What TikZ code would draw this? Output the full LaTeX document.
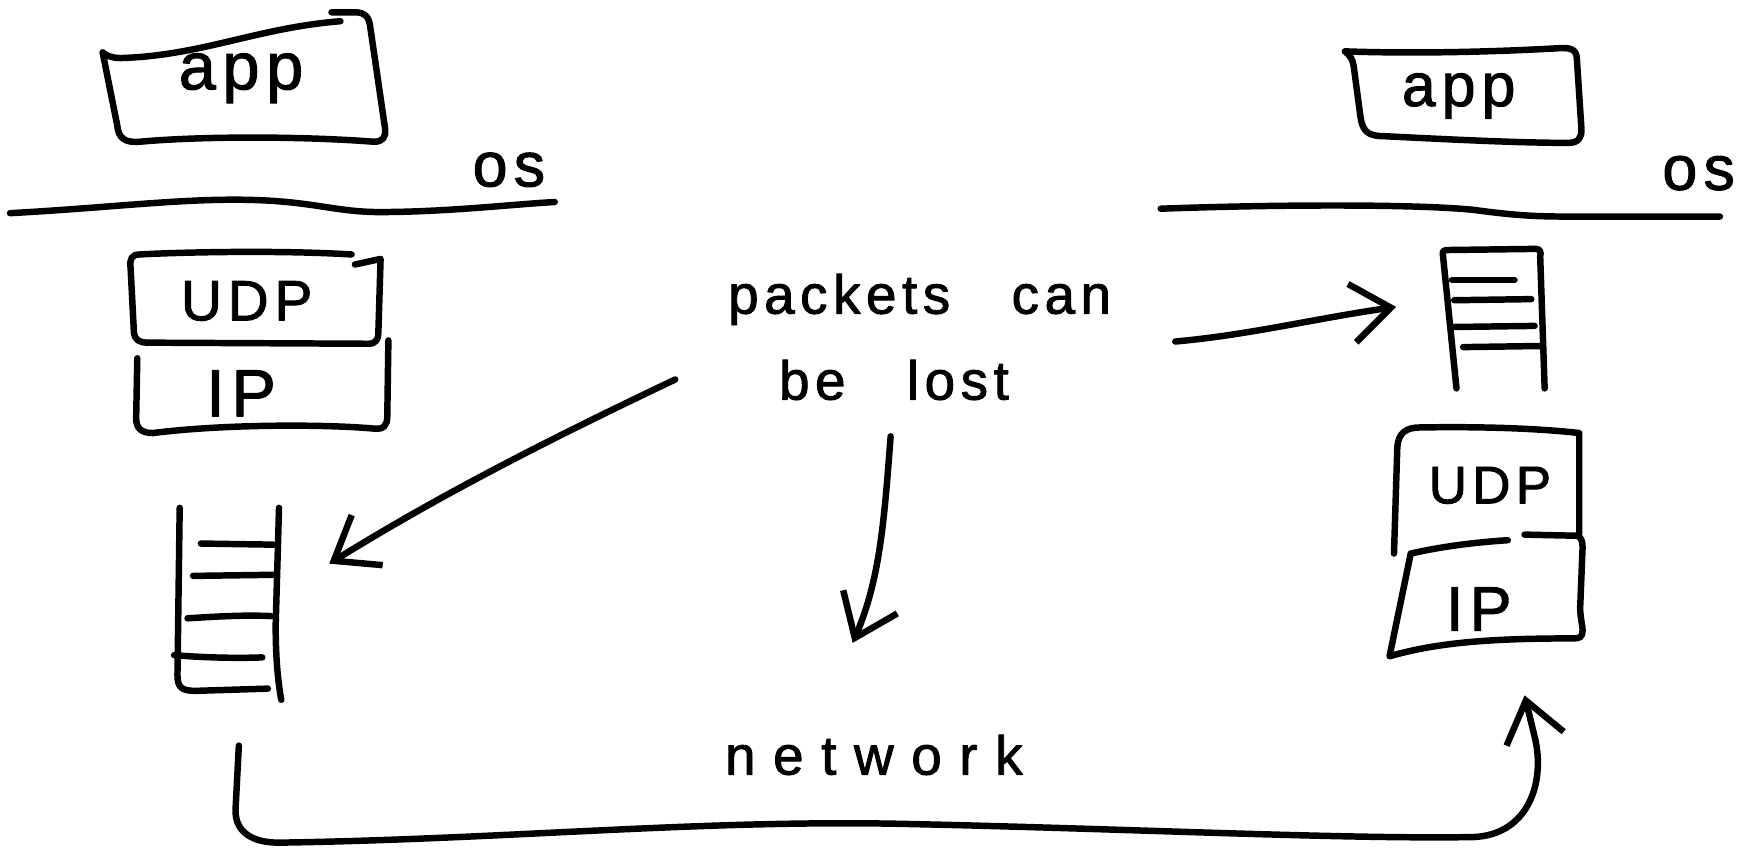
\documentclass[tikz,border=0pt]{standalone}
\usepackage{fontspec}
\newfontfamily\hand[LetterSpace=10,FakeBold=1.6]{Liberation Sans}
\newfontfamily\handwide[LetterSpace=32,FakeBold=1.6]{Liberation Sans}
\usetikzlibrary{arrows.meta}
\begin{document}
\begin{tikzpicture}[x=0.02cm,y=-0.02cm,
  line width=3.3pt, line cap=round, line join=round,
  lbl/.style={inner sep=0pt, anchor=base},
  fs/.style={font=\hand\fontsize{#1}{#1}\selectfont},
  fw/.style={font=\handwide\fontsize{#1}{#1}\selectfont},
  barb/.style={-{Straight Barb[length=20pt,width=30pt]}},
  slot/.style={inner sep=0pt, draw=none}]

\fill[white] (0,0) rectangle (1568,762);
\useasboundingbox (0,0) rectangle (1568,762);

% ---------------- left host ----------------
% app box
\node[lbl, fs=34] (appL) at (216,80) {app};
\draw (92,47) .. controls (96,50) and (100,52) .. (108,52)
      .. controls (180,50) and (230,25) .. (305,19);
\draw (297,11) -- (318,11) .. controls (328,11) and (331,16) .. (332,26)
      -- (345,115) .. controls (346,123) and (343,127) .. (335,127)
      .. controls (270,122) and (180,122) .. (125,127)
      .. controls (112,128) and (106,124) .. (105,112) -- (92,47);

% os boundary
\node[lbl, fs=32] (osL) at (456,167) {os};
\draw (9,191) .. controls (100,186) and (160,178) .. (220,179)
      .. controls (280,180) and (300,190) .. (340,190)
      .. controls (400,190) and (460,183) .. (497,181);

% UDP box
\node[lbl, fs=29] (udpL) at (221,287) {UDP};
\draw (315,228) .. controls (250,224) and (160,226) .. (125,228)
      .. controls (118,228) and (116,232) .. (117,240) -- (120,298)
      .. controls (121,305) and (125,307) .. (133,307) -- (330,308)
      .. controls (337,308) and (339,304) .. (339,298) -- (341,232) -- (318,237);

% IP box
\node[lbl, fs=34] (ipL) at (216,373) {IP};
\draw (123,321) -- (122,375) .. controls (122,384) and (127,388) .. (137,388)
      .. controls (200,380) and (290,380) .. (335,384)
      .. controls (344,385) and (347,381) .. (347,373) -- (348,305);

% receive queue
\node[slot, minimum width=1.8cm, minimum height=3.4cm] (qL) at (205,540) {};
\draw (161,455) -- (159,605) .. controls (159,616) and (163,619) .. (175,619) -- (240,617);
\draw (250,455) -- (247,560) .. controls (247,590) and (249,610) .. (252,627);
\draw (180,487) -- (245,488);
\draw (173,516) -- (245,515);
\draw (168,554) .. controls (200,552) and (220,551) .. (243,552);
\draw (156,587) .. controls (180,589) and (210,590) .. (235,589);

% ---------------- right host ----------------
\node[lbl, fs=31] (appR) at (1307,95) {app};
\draw (1205,46) .. controls (1210,50) and (1212,53) .. (1213,60) -- (1219,105)
      .. controls (1221,118) and (1226,122) .. (1240,122)
      .. controls (1300,125) and (1360,128) .. (1405,128)
      .. controls (1414,128) and (1417,124) .. (1417,116) -- (1413,55)
      .. controls (1413,46) and (1410,43) .. (1400,43)
      .. controls (1330,47) and (1260,48) .. (1205,46);

\node[lbl, fs=32] (osR) at (1522,170) {os};
\draw (1040,187) .. controls (1150,183) and (1270,183) .. (1320,188)
      .. controls (1350,192) and (1370,194) .. (1400,194) -- (1541,194);

% receive queue
\node[slot, minimum width=1.8cm, minimum height=2.5cm] (qR) at (1337,287) {};
\draw (1305,348) -- (1293,230) .. controls (1292,225) and (1293,224) .. (1298,224)
      -- (1376,223) .. controls (1380,223) and (1381,226) .. (1380,230) -- (1384,348);
\draw (1301,251) -- (1357,251);
\draw (1303,269) -- (1372,268);
\draw (1301,293) -- (1375,292);
\draw (1311,311) -- (1381,310);

% UDP box
\node[lbl, fs=27] (udpR) at (1335,451) {UDP};
\draw (1249,496) -- (1252,400) .. controls (1253,388) and (1260,383) .. (1272,383)
      .. controls (1330,382) and (1380,384) .. (1415,388) -- (1415,478);

% IP box
\node[lbl, fs=32] (ipR) at (1325,565) {IP};
\draw (1264,496) .. controls (1290,490) and (1320,486) .. (1351,484);
\draw (1366,479) -- (1412,480) .. controls (1416,480) and (1418,484) .. (1418,490)
      -- (1416,540) .. controls (1415,550) and (1418,560) .. (1418,565)
      .. controls (1418,571) and (1415,572) .. (1410,572)
      .. controls (1340,572) and (1290,575) .. (1245,588) -- (1264,496);

% ---------------- middle ----------------
\node[lbl, fs=28] (msgA) at (824,281) {packets\hspace{1.1cm}can};
\node[lbl, fs=28] (msgB) at (801,358) {be\hspace{1.1cm}lost};
\node[lbl, fw=28] (net) at (783,694) {network};

\coordinate (fromL) at (605,340);
\coordinate (intoL) at (295,505);
\coordinate (fromR) at (1053,306);
\coordinate (intoR) at (1251,275);
\coordinate (fromD) at (798,391);
\coordinate (drop)  at (764,576);
\coordinate (wireA) at (214,668);
\coordinate (wireB) at (1366,623);

\draw[barb] (fromL) .. controls (500,390) and (400,440) .. (intoL);
\draw[barb] (fromR) .. controls (1120,300) and (1180,285) .. (intoR);
\draw[barb] (fromD) .. controls (792,470) and (788,520) .. (drop);

% network path from the left queue to the right IP layer
\draw[barb] (wireA) -- (211,726) .. controls (211,745) and (225,755) .. (250,755)
      .. controls (450,752) and (620,735) .. (800,738)
      .. controls (1000,742) and (1200,752) .. (1320,750)
      .. controls (1370,748) and (1385,700) .. (1375,660) -- (wireB);
\end{tikzpicture}
\end{document}
